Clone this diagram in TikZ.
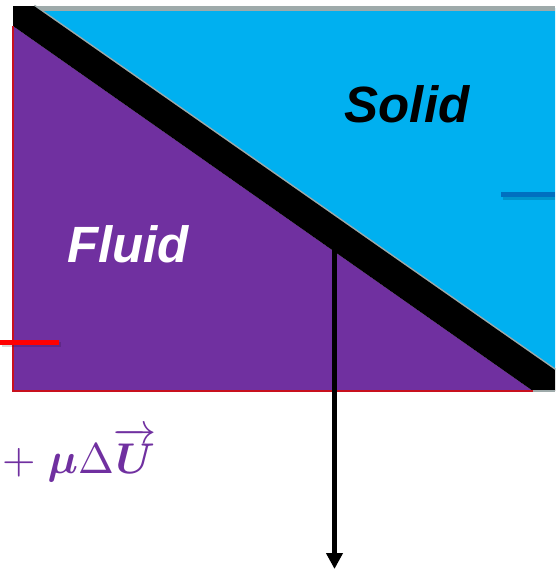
\documentclass[tikz,border=0pt]{standalone}
\usepackage{amsmath,amssymb}
\usepackage{fontspec}
\setsansfont{Liberation Sans}
\usetikzlibrary{arrows.meta}

\definecolor{fluidpurple}{HTML}{7030A0}
\definecolor{solidcyan}{HTML}{00B0F0}
\definecolor{edgegray}{RGB}{158,170,170}
\definecolor{edgered}{RGB}{200,16,30}
\definecolor{markblue}{HTML}{0070C0}

\begin{document}
\begin{tikzpicture}[
  x=1pt, y=-1pt,
  region/.style={draw=none},
  regionlabel/.style={font=\fontsize{51}{56}\selectfont\sffamily\bfseries\itshape, inner sep=0pt, anchor=base},
  tickline/.style={line width=5pt},
  tickshadow/.style={line width=5pt, black, opacity=0.15},
  arrow/.style={-{Triangle[length=16pt,width=16pt]}, line width=5pt}
]
\useasboundingbox (0,0) rectangle (555,571);

% fluid and solid regions
\fill[region, fluidpurple] (13,26) -- (13,391) -- (533,391) -- cycle;
\fill[region, solidcyan] (34,8) -- (555,8) -- (555,370) -- cycle;
\draw[edgegray, line width=5pt] (34,8.5) -- (555,8.5);
\draw[edgegray, line width=3pt] (34,6) -- (555,370);

% interface band
\fill[black] (13,6) -- (34,6) -- (555,370) -- (555,391) -- (533,391) -- (13,26) -- cycle;

% fluid boundary
\draw[edgered, line width=1.5pt] (13,26) -- (13,391) -- (533,391);
\draw[edgegray, line width=2pt] (533,391) -- (555,391);

% short marks with shadows
\draw[tickshadow] (2,344.5) -- (61,344.5);
\draw[tickline, red] (0,342) -- (59,342);
\draw[tickshadow] (503,197) -- (555,197);
\draw[tickline, markblue] (501,194.5) -- (555,194.5);

\node[regionlabel, black] (solid) at (407,122) {Solid};
\node[regionlabel, white] (fluid) at (128,262) {Fluid};

\node[anchor=base west, inner sep=0pt, text=fluidpurple] (eqn) at (2,473)
  {\scalebox{4.3}{$+\;\boldsymbol{\mu}\Delta\overrightarrow{\boldsymbol{U}}$}};

\coordinate (top) at (334.5,249);
\coordinate (bottom) at (334.5,569);
\draw[arrow] (top) -- (bottom);
\end{tikzpicture}
\end{document}
